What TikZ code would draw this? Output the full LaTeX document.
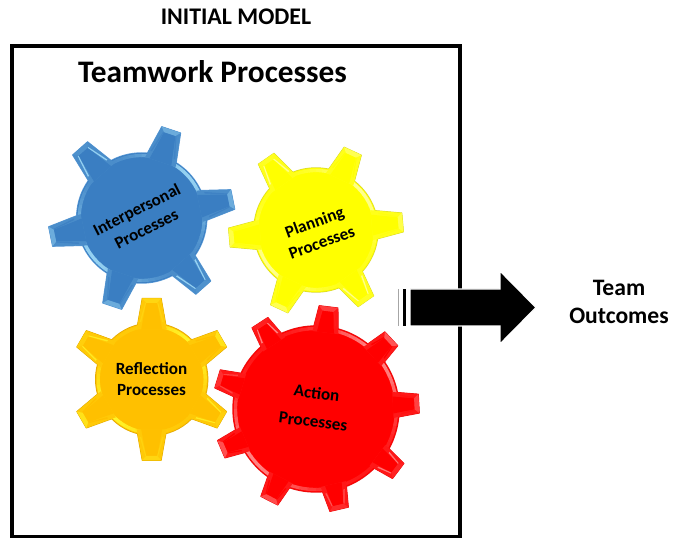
\documentclass[tikz,border=0pt]{standalone}
\usepackage{fontspec}
\setmainfont{Carlito}
\tikzset{
  x=.75pt,y=.75pt,
  gearlabel/.style={font=\bfseries\fontsize{12.8}{16}\selectfont,align=center,text=black,inner sep=0pt},
  headlabel/.style={font=\bfseries,align=center,text=black,inner sep=0pt}
}
% cx, cy (image px), R, first angle, teeth, tip distance, base half width, tip half width
\newcommand{\gearshape}[8]{%
\begin{scope}[shift={(#1,538-#2)}]
  \pgfmathsetmacro{\gstep}{360/#5}
  \pgfmathsetmacro{\gbackR}{#3-6}
  \pgfmathsetmacro{\gfootR}{#3+1.5}
  \pgfmathsetmacro{\gtipR}{#6-4.5}
  \pgfmathsetmacro{\gfootH}{#7-4.5}
  \pgfmathsetmacro{\gtipH}{#8-4}
  % outer rim
  \fill[grim] (0,0) circle[radius=#3+.7];
  \foreach \k in {1,...,#5}{
    \pgfmathsetmacro{\gang}{#4+(\k-1)*\gstep}
    \begin{scope}[rotate=\gang]
      \draw[grim,fill=grim,line width=.7pt,line join=round] (\gbackR,#7) -- (#6,#8) -- (#6,-#8) -- (\gbackR,-#7) -- cycle;
    \end{scope}
  }
  \fill[gbase] (0,0) circle[radius=#3];
  % bevel ring of the body
  \pgfmathsetmacro{\gringR}{#3-2.5}
  \foreach \a in {0,6,...,354}{
    \pgfmathsetmacro{\gpa}{15+70*abs(cos(\a+3-40))^3}
    \draw[line width=2.5pt,color={glight!\gpa!gbase}] (\a:\gringR) arc[start angle=\a,end angle=\a+6.5,radius=\gringR];
  }
  % teeth
  \foreach \k in {1,...,#5}{
    \pgfmathsetmacro{\gang}{#4+(\k-1)*\gstep}
    \pgfmathsetmacro{\gpa}{85*abs(cos(\gang+90-40))^4}
    \pgfmathsetmacro{\gpb}{85*abs(cos(\gang-90-40))^4}
    \pgfmathsetmacro{\gpc}{20+35*abs(cos(\gang-40))^2}
    \begin{scope}[rotate=\gang]
      \fill[glight!15!gbase] (\gbackR,#7) -- (#6,#8) -- (#6,-#8) -- (\gbackR,-#7) -- cycle;
      \fill[gbase] (\gbackR,\gfootH) -- (\gtipR,\gtipH) -- (\gtipR,-\gtipH) -- (\gbackR,-\gfootH) -- cycle;
      \fill[color={glight!\gpa!gbase}] (\gfootR,#7-3) -- (\gtipR,#8-3) -- (\gtipR,\gtipH) -- (\gfootR,\gfootH) -- cycle;
      \fill[color={glight!\gpb!gbase}] (\gfootR,-#7+3) -- (\gtipR,-#8+3) -- (\gtipR,-\gtipH) -- (\gfootR,-\gfootH) -- cycle;
      \fill[color={glight!\gpc!gbase}] (#6,#8) -- (#6,-#8) -- (\gtipR,-\gtipH) -- (\gtipR,\gtipH) -- cycle;
    \end{scope}
  }
\end{scope}}
\begin{document}
\begin{tikzpicture}
\useasboundingbox (0,0) rectangle (674,538);
% frame
\draw[black,line width=2.3pt] (12,538-46) rectangle (460,538-537);
% gears
\definecolor{gbase}{HTML}{3A7EC2}\definecolor{grim}{HTML}{5B9AD6}\definecolor{glight}{HTML}{A5E0FA}
\gearshape{141.7}{218}{65}{11.5}{6}{93}{16}{10}
\definecolor{gbase}{HTML}{FFFF00}\definecolor{grim}{HTML}{D9D92A}\definecolor{glight}{HTML}{FFFFA8}
\gearshape{316}{230}{62}{5}{6}{87}{15}{9.5}
\definecolor{gbase}{HTML}{FFC000}\definecolor{grim}{HTML}{E0A800}\definecolor{glight}{HTML}{FFFF30}
\gearshape{151.7}{379.3}{56}{30}{6}{81}{15}{9.5}
\definecolor{gbase}{HTML}{FF0000}\definecolor{grim}{HTML}{E81010}\definecolor{glight}{HTML}{FF9A9A}
\gearshape{316}{409}{83}{3}{9}{103}{13}{9.5}
% gear labels
\node[gearlabel,rotate=27] (inter) at (141.5,538-219) {Interpersonal\\Processes};
\node[gearlabel,rotate=20] (plan) at (318,538-232) {Planning\\Processes};
\node[gearlabel] (refl) at (151.5,538-379) {Reflection\\Processes};
\node[gearlabel,rotate=-7,font=\bfseries\fontsize{12.8}{21.5}\selectfont] (act) at (315,538-407) {Action\\Processes};
% headings
\node[headlabel,font=\bfseries\fontsize{17.9}{21}\selectfont] (initial) at (236,538-17) {INITIAL MODEL};
\node[headlabel,font=\bfseries\fontsize{23.5}{28}\selectfont] (title) at (212.5,538-72) {Teamwork Processes};
\node[headlabel,font=\bfseries\fontsize{17.7}{20.6}\selectfont] (outcomes) at (619,538-302) {Team\\Outcomes};
% arrow
\fill[gray!70] (398,538-289) rectangle (399.2,538-326);
\fill[black] (403.2,538-289) rectangle (406,538-326);
\coordinate (arrowtail) at (410,538-307.5);
\coordinate (arrowhead) at (536,538-307.5);
\draw[white,line width=1pt,fill=black,line join=miter]
  (arrowtail |- 0,538-289) -- (500,538-289) -- (500,538-271) -- (arrowhead)
  -- (500,538-344) -- (500,538-326) -- (arrowtail |- 0,538-326) -- cycle;
\end{tikzpicture}
\end{document}
